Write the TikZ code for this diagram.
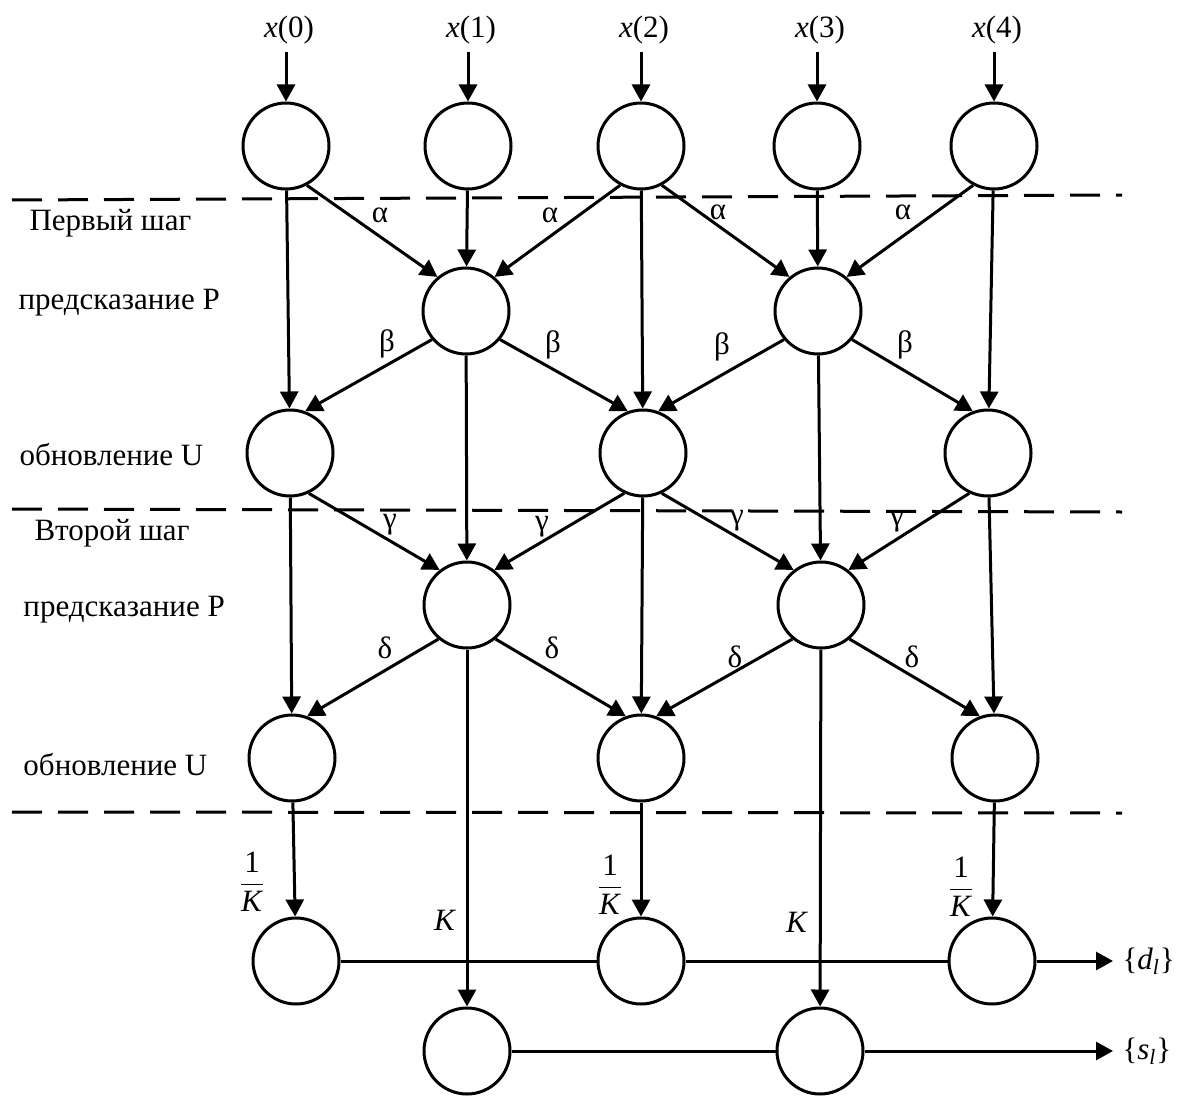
\documentclass[tikz,border=0pt]{standalone}
\usepackage{amsmath}
\usepackage{fontspec}
\setmainfont{Liberation Serif}
\usetikzlibrary{arrows.meta}

\begin{document}
\begin{tikzpicture}[x=0.5pt, y=-0.5pt, font=\fontsize{15.5}{18}\selectfont,
    >={Triangle[length=8.5pt,width=9pt]}, line width=1.5pt,
    nd/.style={draw, circle, minimum size=43pt, inner sep=0pt},
    lbl/.style={inner sep=0pt},
    sep/.style={dash pattern=on 15pt off 8pt}]

    \useasboundingbox (0,0) rectangle (1178,1097);

    % ---- input samples
    \foreach \i/\x in {0/286, 1/468, 2/641, 3/817, 4/994} {
      \node[nd] (in\i) at (\x,146) {};
      \node[lbl] (xl\i) at (\x+3,30) {\textit{x}(\i)};
      \coordinate (src\i) at (\x,52);
      \draw[->] (src\i) -- (in\i);
    }

    % ---- first step
    \node[nd] (pa1) at (466,311) {};
    \node[nd] (pa3) at (818,311) {};
    \foreach \n/\x in {0/290, 2/643, 4/988}
      \node[nd] (ua\n) at (\x,453) {};

    % ---- second step
    \node[nd] (pb1) at (467,605) {};
    \node[nd] (pb3) at (821,605) {};
    \foreach \n/\x in {0/292, 2/641, 4/995}
      \node[nd] (ub\n) at (\x,758) {};

    % ---- scaling
    \foreach \n/\x in {0/296, 2/641, 4/992}
      \node[nd] (dd\n) at (\x,961) {};
    \node[nd] (ss1) at (467,1051) {};
    \node[nd] (ss3) at (820,1051) {};

    % ---- separators
    \draw[sep] (12,200) -- (1122,195);
    \draw[sep] (12,509) -- (1122,512);
    \draw[sep] (12,812) -- (1122,813);

    % ---- straight connections
    \foreach \s/\t in {in1/pa1, in3/pa3, in0/ua0, in2/ua2, in4/ua4,
                       pa1/pb1, pa3/pb3, ua0/ub0, ua2/ub2, ua4/ub4,
                       ub0/dd0, ub2/dd2, ub4/dd4, pb1/ss1, pb3/ss3}
      \draw[->] (\s) -- (\t);

    % ---- slanted connections
    \foreach \s/\a/\t/\b in {in0/-62/pa1/130, in2/-118/pa1/50, in2/-62/pa3/130, in4/-118/pa3/50,
                             pa1/-140/ua0/70, pa1/-40/ua2/110, pa3/-140/ua2/70, pa3/-40/ua4/110,
                             ua0/-65/pb1/128, ua2/-115/pb1/52, ua2/-65/pb3/128, ua4/-115/pb3/52,
                             pb1/-130/ub0/70, pb1/-50/ub2/110, pb3/-130/ub2/70, pb3/-50/ub4/110}
      \draw[->] (\s.\a) -- (\t.\b);

    % ---- outputs
    \draw (dd0) -- (dd2);
    \draw (dd2) -- (dd4);
    \draw (ss1) -- (ss3);
    \coordinate (dout) at (1113,961);
    \coordinate (sout) at (1113,1051);
    \draw[->] (dd4) -- (dout);
    \draw[->] (ss3) -- (sout);
    \node[lbl, anchor=west] (dl) at (1121,961) {\{\textit{d}\textsubscript{\textit{l}}\}};
    \node[lbl, anchor=west] (sl) at (1121,1051) {\{\textit{s}\textsubscript{\textit{l}}\}};

    % ---- coefficients
    \foreach \x/\y/\c [count=\k] in {380/215/α, 550/215/α, 718/212/α, 903/212/α,
                                    387/344/β, 553/345/β, 722/347/β, 905/345/β,
                                    390/525/γ, 542/527/γ, 737/521/γ, 897/522/γ,
                                    385/648/δ, 552/648/δ, 735/657/δ, 912/657/δ}
      \node[lbl] (cf\k) at (\x,\y) {\c};
    \foreach \x/\y [count=\k] in {252/882, 610/885, 961/887}
      \node[lbl] (inv\k) at (\x,\y) {$\dfrac{\text{1}}{\text{\textit{K}}}$};
    \node[lbl] (kk1) at (445,920) {\textit{K}};
    \node[lbl] (kk3) at (797,922) {\textit{K}};

    % ---- row captions
    \foreach \x/\y/\t [count=\k] in {28/223/Первый шаг, 17/303/предсказание Р, 18/455/обновление U,
                                    33/533/Второй шаг, 22/610/предсказание Р, 22/765/обновление U}
      \node[lbl, anchor=west] (cap\k) at (\x,\y) {\t};
\end{tikzpicture}
\end{document}
